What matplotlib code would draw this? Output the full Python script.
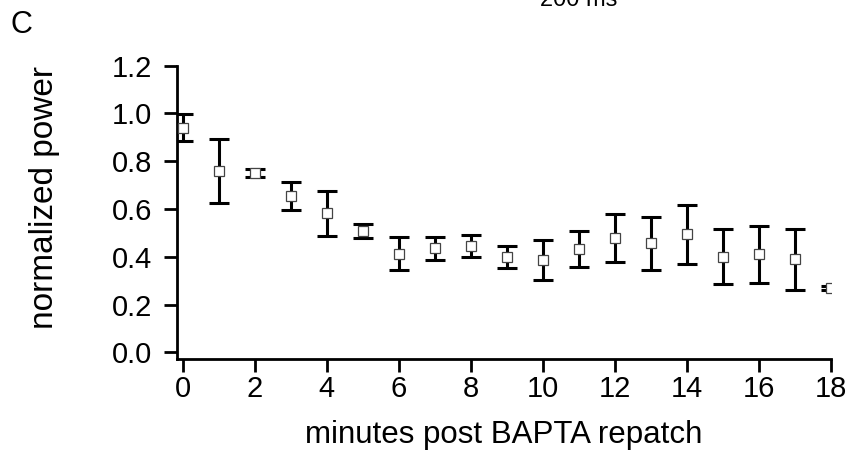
import matplotlib
matplotlib.use("Agg")
import matplotlib.pyplot as plt
from matplotlib import font_manager

minutes = [0, 1, 2, 3, 4, 5, 6, 7, 8, 9, 10, 11, 12, 13, 14, 15, 16, 17, 18]
power = [0.94, 0.759, 0.751, 0.655, 0.582, 0.509, 0.413, 0.435, 0.446, 0.400,
         0.387, 0.432, 0.480, 0.456, 0.494, 0.400, 0.411, 0.389, 0.268]
power_err = [0.056, 0.133, 0.016, 0.060, 0.095, 0.030, 0.070, 0.048, 0.045, 0.046,
             0.083, 0.075, 0.100, 0.110, 0.124, 0.115, 0.119, 0.128, 0.008]
xticks = [0, 2, 4, 6, 8, 10, 12, 14, 16, 18]
yticks = [0.0, 0.2, 0.4, 0.6, 0.8, 1.0, 1.2]

names = {f.name for f in font_manager.fontManager.ttflist}
fam = ['Liberation Sans', 'DejaVu Sans']
fam = [f for f in fam if f in names] or ['DejaVu Sans']
plt.rcParams['font.family'] = fam

W, H = 850, 457
fig = plt.figure(figsize=(W / 100, H / 100), dpi=100)
left, right, top, bottom = 176.7, 831, 65.7, 359
ax = fig.add_axes([left / W, 1 - bottom / H, (right - left) / W, (bottom - top) / H])

ax.errorbar(minutes, power, yerr=power_err, fmt='none', ecolor='black',
            elinewidth=2.2, capsize=7, capthick=2.2, zorder=2)
ax.plot(minutes, power, linestyle='none', marker='s', markersize=7.2,
        markerfacecolor='white', markeredgecolor='#444444', markeredgewidth=0.9, zorder=3)

ax.set_xlim(-0.166, 18)
ax.set_ylim(-0.028, 1.2)
ax.set_xticks(xticks)
ax.set_xticklabels([str(t) for t in xticks])
ax.set_yticks(yticks)
ax.set_yticklabels([f"{t:.1f}" for t in yticks])

for s in ['top', 'right']:
    ax.spines[s].set_visible(False)
for s in ['left', 'bottom']:
    ax.spines[s].set_linewidth(2)
ax.tick_params(axis='both', direction='out', length=9.5, width=2, labelsize=21)
ax.tick_params(axis='x', pad=2)
ax.tick_params(axis='y', pad=8)

ax.set_xlabel('minutes post BAPTA repatch', fontsize=22.5, labelpad=12)
ax.set_ylabel('normalized power', fontsize=24)
ax.yaxis.set_label_coords(-0.178, 0.549)

fig.text(11 / W, 1 - 33 / H, 'C', fontsize=22, ha='left', va='baseline')
fig.text(579 / W, 1 - 6 / H, '200 ms', fontsize=17, ha='center', va='baseline')

fig.savefig('out.png', dpi=100)
